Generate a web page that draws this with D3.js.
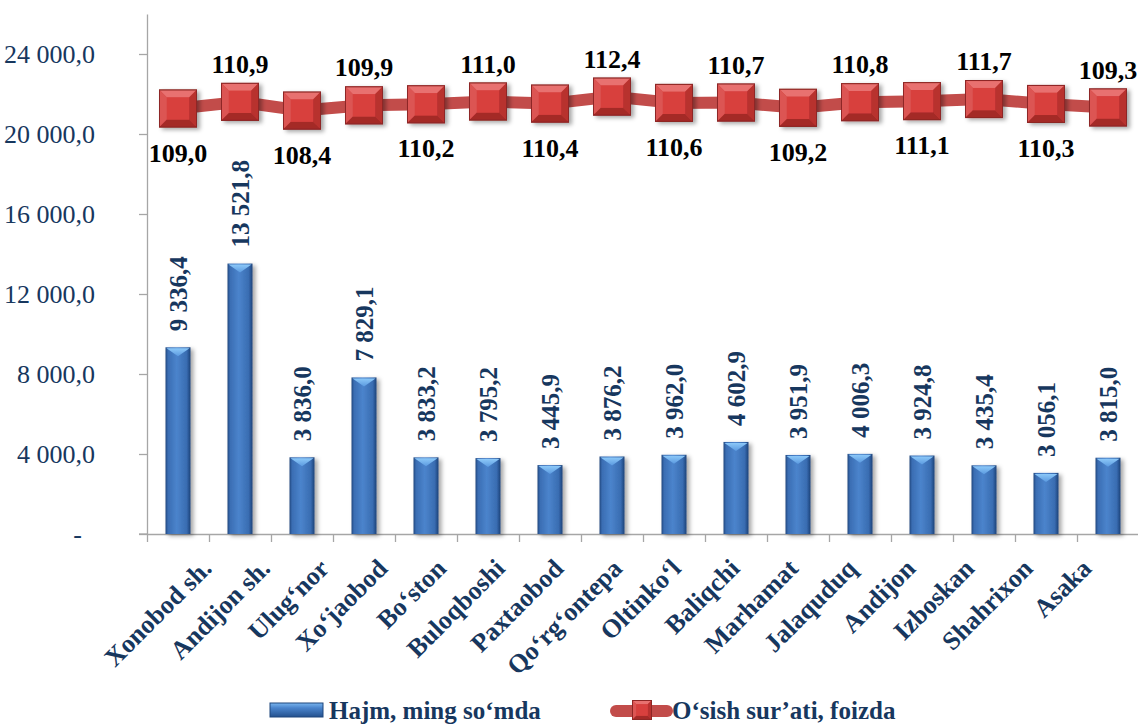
<!DOCTYPE html>
<html lang="en">
<head>
<meta charset="UTF-8">
<title>Hajm va o‘sish sur’ati</title>
<script src="https://d3js.org/d3.v7.min.js"></script>
<style>
  html, body { margin: 0; padding: 0; background: #fff; }
  svg { display: block; }
</style>
</head>
<body>
<div id="chart"></div>
<script>
// data
const categories = ["Xonobod sh.", "Andijon sh.", "Ulug‘nor", "Xo‘jaobod", "Bo‘ston", "Buloqboshi",
  "Paxtaobod", "Qo‘rg‘ontepa", "Oltinko‘l", "Baliqchi", "Marhamat", "Jalaquduq", "Andijon",
  "Izboskan", "Shahrixon", "Asaka"];
const volume = [9336.4, 13521.8, 3836.0, 7829.1, 3833.2, 3795.2, 3445.9, 3876.2, 3962.0,
  4602.9, 3951.9, 4006.3, 3924.8, 3435.4, 3056.1, 3815.0];
const growth = [109.0, 110.9, 108.4, 109.9, 110.2, 111.0, 110.4, 112.4, 110.6, 110.7,
  109.2, 110.8, 111.1, 111.7, 110.3, 109.3];
const yTicks = [0, 4000, 8000, 12000, 16000, 20000, 24000];
const seriesNames = ["Hajm, ming so‘mda", "O‘sish sur’ati, foizda"];

const width = 1138, height = 726;
const navy = "#17375e";
const serif = "'Liberation Serif', LiberationSerif, 'Times New Roman', 'DejaVu Serif', 'Noto Serif', serif";

const loc = d3.formatLocale({ decimal: ",", thousands: "\u00a0", grouping: [3], currency: ["", ""] });
const fmt = loc.format(",.1f");
const fmtTick = d => d === 0 ? "-\u00a0\u00a0" : fmt(d);

const svg = d3.select("#chart").append("svg")
  .attr("width", width)
  .attr("height", height)
  .style("font-family", serif);

const defs = svg.append("defs");

const barGrad = defs.append("linearGradient").attr("id", "barGrad")
  .attr("x1", "0%").attr("x2", "100%").attr("y1", "0%").attr("y2", "0%");
[["0%", "#1f467d"], ["10%", "#3a6db3"], ["45%", "#4b84cc"], ["85%", "#396cb1"], ["100%", "#1d4378"]]
  .forEach(([o, c]) => barGrad.append("stop").attr("offset", o).attr("stop-color", c));

const capGrad = defs.append("linearGradient").attr("id", "capGrad")
  .attr("x1", "0%").attr("x2", "0%").attr("y1", "0%").attr("y2", "100%");
[["0%", "#8cc8f8"], ["100%", "#5b9ae0"]]
  .forEach(([o, c]) => capGrad.append("stop").attr("offset", o).attr("stop-color", c));

const legGrad = defs.append("linearGradient").attr("id", "legGrad")
  .attr("x1", "0%").attr("x2", "0%").attr("y1", "0%").attr("y2", "100%");
[["0%", "#7ab6ef"], ["35%", "#4a84cc"], ["100%", "#24518e"]]
  .forEach(([o, c]) => legGrad.append("stop").attr("offset", o).attr("stop-color", c));

const shadow = defs.append("filter").attr("id", "shadow")
  .attr("x", "-30%").attr("y", "-10%").attr("width", "170%").attr("height", "130%");
shadow.append("feDropShadow").attr("dx", 3).attr("dy", 2).attr("stdDeviation", 2)
  .attr("flood-color", "#000").attr("flood-opacity", 0.35);

// scales
const x = d3.scaleBand().domain(categories).range([147, 1139]);
const y = d3.scaleLinear().domain([0, 26000]).range([534, 14]);
const y2 = d3.scaleLinear().domain([100, 120]).range([140, 70]); // hidden secondary axis
const labelX = d3.scalePoint().domain(categories).range([213, 1093]);
const barW = 25;

// y axis
const yAxis = svg.append("g")
  .attr("transform", "translate(147,0)")
  .call(d3.axisLeft(y).tickValues(yTicks).tickSize(8).tickSizeOuter(0).tickPadding(44).tickFormat(fmtTick));
yAxis.select(".domain").attr("stroke", "#a6a6a6").attr("stroke-width", 1.3);
yAxis.selectAll(".tick line").attr("stroke", "#a6a6a6").attr("stroke-width", 1.3);
yAxis.attr("font-family", null).attr("font-size", null);
yAxis.selectAll(".tick text")
  .attr("fill", navy)
  .style("font-family", serif)
  .style("font-size", "26px");

// x axis (ticks between categories)
const xi = d3.scaleLinear().domain([0, categories.length]).range(x.range());
const xAxis = svg.append("g")
  .attr("transform", `translate(0,${y(0)})`)
  .call(d3.axisBottom(xi).tickValues(d3.range(categories.length + 1)).tickSize(8).tickSizeOuter(0).tickFormat(""));
xAxis.select(".domain").attr("stroke", "#a6a6a6").attr("stroke-width", 1.3);
xAxis.selectAll(".tick line").attr("stroke", "#a6a6a6").attr("stroke-width", 1.3);
svg.append("line")
  .attr("x1", 139).attr("x2", 147).attr("y1", y(0)).attr("y2", y(0))
  .attr("stroke", "#a6a6a6").attr("stroke-width", 1.3);

// x labels
svg.append("g").selectAll("text")
  .data(categories)
  .join("text")
  .attr("transform", d => `translate(${labelX(d)},570) rotate(-45)`)
  .attr("text-anchor", "end")
  .attr("fill", navy)
  .attr("font-weight", "bold")
  .attr("font-size", 26)
  .text(d => d);

// bars
const bars = svg.append("g").selectAll("g")
  .data(categories.map((c, i) => ({ c, v: volume[i] })))
  .join("g");

bars.append("rect")
  .attr("x", d => x(d.c) + x.bandwidth() / 2 - barW / 2)
  .attr("y", d => y(d.v))
  .attr("width", barW)
  .attr("height", d => y(0) - y(d.v))
  .attr("fill", "url(#barGrad)")
  .attr("filter", "url(#shadow)");

bars.append("path")
  .attr("d", d => {
    const cx = x(d.c) + x.bandwidth() / 2, t = y(d.v);
    return `M${cx - barW / 2 + 1},${t + 1}L${cx + barW / 2 - 1},${t + 1}L${cx},${t + 9}Z`;
  })
  .attr("fill", "url(#capGrad)");

bars.append("text")
  .attr("transform", d => `translate(${x(d.c) + x.bandwidth() / 2},${y(d.v) - 16}) rotate(-90)`)
  .attr("text-anchor", "start")
  .attr("dy", "0.35em")
  .attr("fill", navy)
  .attr("font-weight", "bold")
  .attr("font-size", 25)
  .text(d => fmt(d.v));

// growth line
const pts = categories.map((c, i) => ({ c, v: growth[i], i }));
const line = d3.line().x(d => x(d.c) + x.bandwidth() / 2).y(d => y2(d.v));

svg.append("path")
  .datum(pts)
  .attr("d", line)
  .attr("fill", "none")
  .attr("stroke", "#c24c4a")
  .attr("stroke-width", 12)
  .attr("stroke-linejoin", "round");

function marker(g, s) {
  const h = s / 2, b = s * 0.2;
  g.append("rect").attr("x", -h).attr("y", -h).attr("width", s).attr("height", s)
    .attr("fill", "#d4403e").attr("stroke", "#8e2725").attr("stroke-width", 1);
  g.append("path").attr("d", `M${-h},${-h}L${h},${-h}L${h - b},${-h + b}L${-h + b},${-h + b}Z`).attr("fill", "#e8716f");
  g.append("path").attr("d", `M${-h},${-h}L${-h + b},${-h + b}L${-h + b},${h - b}L${-h},${h}Z`).attr("fill", "#dc5553");
  g.append("path").attr("d", `M${h},${-h}L${h},${h}L${h - b},${h - b}L${h - b},${-h + b}Z`).attr("fill", "#b8312f");
  g.append("path").attr("d", `M${-h},${h}L${h},${h}L${h - b},${h - b}L${-h + b},${h - b}Z`).attr("fill", "#a42a28");
  g.append("rect").attr("x", -h + b).attr("y", -h + b).attr("width", s - 2 * b).attr("height", s - 2 * b)
    .attr("fill", "#d8403e");
  g.append("rect").attr("x", -h).attr("y", -h).attr("width", s).attr("height", s)
    .attr("fill", "none").attr("stroke", "#8e2725").attr("stroke-width", 1);
}

svg.append("g").selectAll("g")
  .data(pts)
  .join("g")
  .attr("transform", d => `translate(${x(d.c) + x.bandwidth() / 2},${y2(d.v)})`)
  .attr("filter", "url(#shadow)")
  .each(function () { marker(d3.select(this), 37); });

svg.append("g").selectAll("text")
  .data(pts)
  .join("text")
  .attr("x", d => x(d.c) + x.bandwidth() / 2)
  .attr("y", d => y2(d.v) + (d.i % 2 === 0 ? 44 : -38))
  .attr("dy", "0.35em")
  .attr("text-anchor", "middle")
  .attr("fill", "#000")
  .attr("font-weight", "bold")
  .attr("font-size", 26)
  .text(d => fmt(d.v));

// legend
const leg = svg.append("g");
leg.append("rect").attr("x", 270).attr("y", 703).attr("width", 53).attr("height", 14)
  .attr("fill", "url(#legGrad)").attr("stroke", "#1f467d").attr("stroke-width", 1);
leg.append("text").attr("x", 329).attr("y", 719)
  .attr("fill", navy).attr("font-weight", "bold").attr("font-size", 25).text(seriesNames[0]);

leg.append("line").attr("x1", 616).attr("x2", 667).attr("y1", 711).attr("y2", 711)
  .attr("stroke", "#c24c4a").attr("stroke-width", 12).attr("stroke-linecap", "round");
marker(leg.append("g").attr("transform", "translate(642,710)"), 19);
leg.append("text").attr("x", 672).attr("y", 719)
  .attr("fill", navy).attr("font-weight", "bold").attr("font-size", 25).text(seriesNames[1]);
</script>
</body>
</html>
